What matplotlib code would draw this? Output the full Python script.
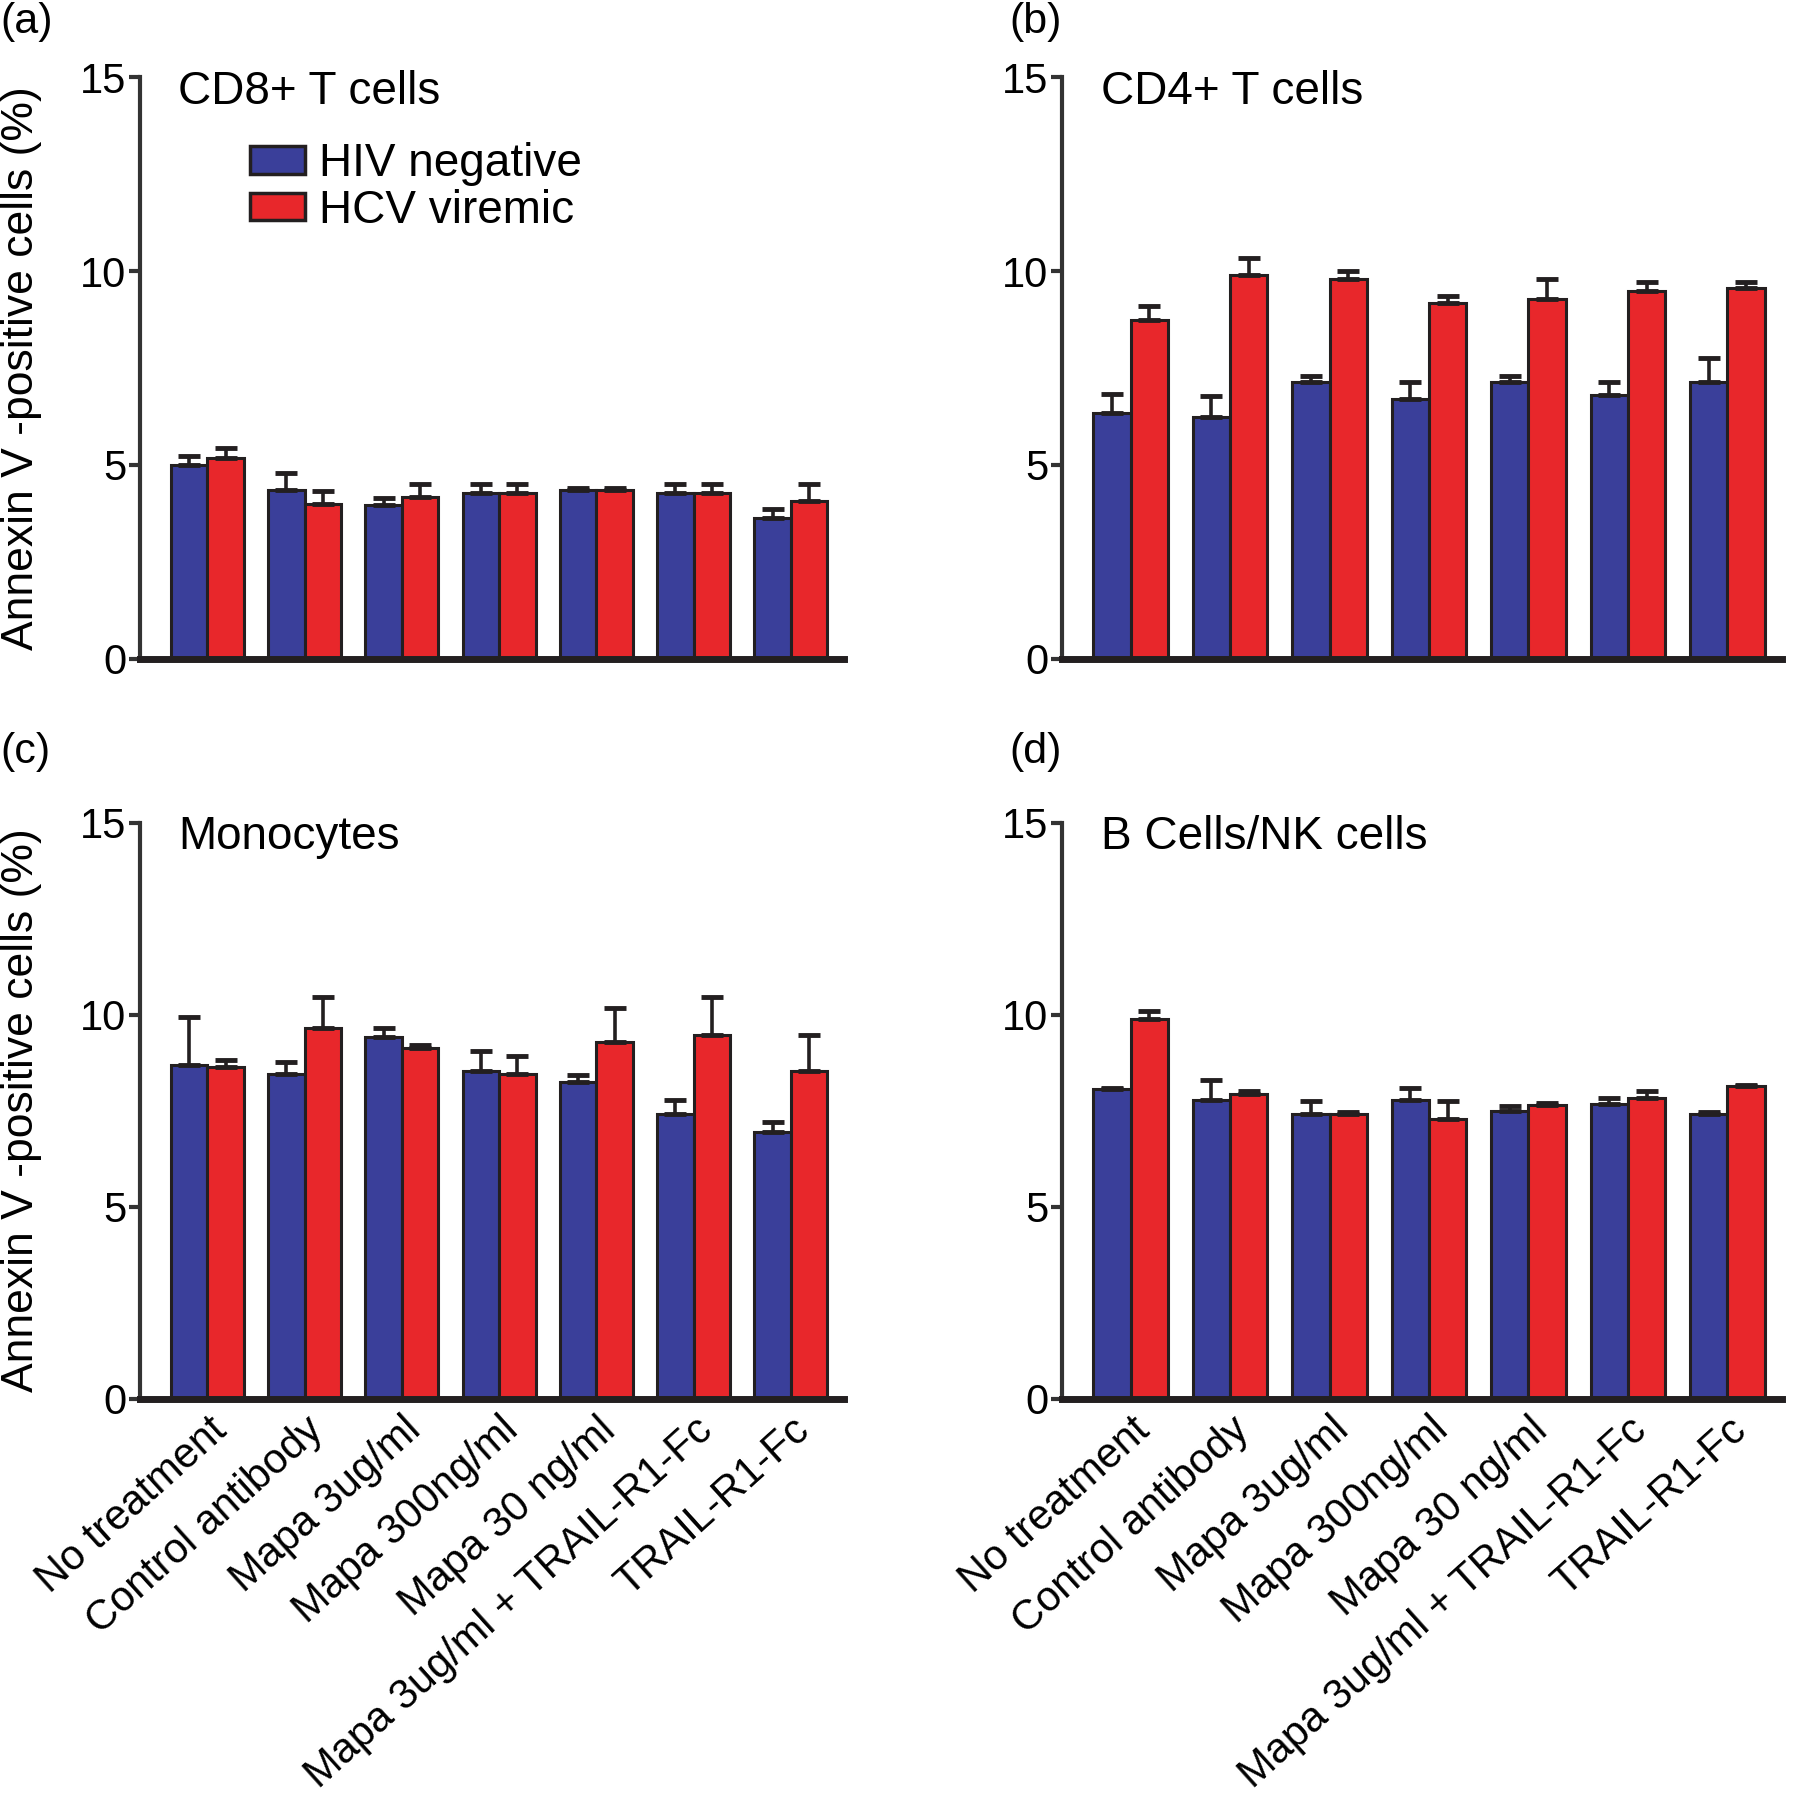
import numpy as np
import matplotlib
matplotlib.use("Agg")
import matplotlib.pyplot as plt
from matplotlib.patches import Patch

plt.rcParams["font.family"] = ["Liberation Sans", "DejaVu Sans"]

# ── Data ─────────────────────────────────────────────────────────────────────
treatments = [
    "No treatment",
    "Control antibody",
    "Mapa 3ug/ml",
    "Mapa 300ng/ml",
    "Mapa 30 ng/ml",
    "Mapa 3ug/ml + TRAIL-R1-Fc",
    "TRAIL-R1-Fc",
]
groups = ["HIV negative", "HCV viremic"]

# (a) CD8+ T cells
cd8_hiv = [5.00, 4.35, 3.97, 4.27, 4.35, 4.27, 3.62]
cd8_hiv_err = [0.23, 0.45, 0.19, 0.23, 0.05, 0.23, 0.25]
cd8_hcv = [5.17, 4.00, 4.17, 4.27, 4.35, 4.27, 4.08]
cd8_hcv_err = [0.26, 0.34, 0.33, 0.23, 0.05, 0.23, 0.42]

# (b) CD4+ T cells
cd4_hiv = [6.34, 6.23, 7.15, 6.69, 7.15, 6.80, 7.15]
cd4_hiv_err = [0.50, 0.55, 0.15, 0.44, 0.15, 0.33, 0.61]
cd4_hcv = [8.75, 9.90, 9.81, 9.19, 9.29, 9.48, 9.56]
cd4_hcv_err = [0.35, 0.44, 0.19, 0.17, 0.52, 0.23, 0.15]

# (c) Monocytes
mono_hiv = [8.69, 8.46, 9.41, 8.54, 8.25, 7.41, 6.95]
mono_hiv_err = [1.24, 0.31, 0.23, 0.50, 0.17, 0.37, 0.25]
mono_hcv = [8.63, 9.66, 9.12, 8.46, 9.29, 9.47, 8.54]
mono_hcv_err = [0.20, 0.79, 0.08, 0.46, 0.87, 0.98, 0.93]

# (d) B cells / NK cells
bnk_hiv = [8.06, 7.77, 7.40, 7.77, 7.48, 7.66, 7.40]
bnk_hiv_err = [0.03, 0.52, 0.35, 0.32, 0.15, 0.17, 0.06]
bnk_hcv = [9.88, 7.94, 7.42, 7.28, 7.65, 7.84, 8.13]
bnk_hcv_err = [0.22, 0.06, 0.04, 0.47, 0.06, 0.16, 0.04]

BLUE = "#3a3f9a"
RED = "#e8272b"
EDGE = "#231f20"

# ── Figure ───────────────────────────────────────────────────────────────────
fig = plt.figure(figsize=(18, 18), dpi=100)

panels = [
    ("(a)", "CD8+ T cells", cd8_hiv, cd8_hiv_err, cd8_hcv, cd8_hcv_err, [0.078, 0.634, 0.391, 0.323]),
    ("(b)", "CD4+ T cells", cd4_hiv, cd4_hiv_err, cd4_hcv, cd4_hcv_err, [0.590, 0.634, 0.400, 0.323]),
    ("(c)", "Monocytes", mono_hiv, mono_hiv_err, mono_hcv, mono_hcv_err, [0.078, 0.223, 0.391, 0.320]),
    ("(d)", "B Cells/NK cells", bnk_hiv, bnk_hiv_err, bnk_hcv, bnk_hcv_err, [0.590, 0.223, 0.400, 0.320]),
]

x = np.arange(len(treatments))
w = 0.375

for i, (tag, title, hiv, hiv_err, hcv, hcv_err, rect) in enumerate(panels):
    ax = fig.add_axes(rect)
    err_kw = dict(ecolor=EDGE, elinewidth=2.6, capsize=8, capthick=3.5)
    ax.bar(x - w / 2, hiv, w, color=BLUE, edgecolor=EDGE, linewidth=2.2,
           yerr=[np.zeros(len(hiv)), hiv_err], error_kw=err_kw, label=groups[0], zorder=2)
    ax.bar(x + w / 2, hcv, w, color=RED, edgecolor=EDGE, linewidth=2.2,
           yerr=[np.zeros(len(hcv)), hcv_err], error_kw=err_kw, label=groups[1], zorder=2)

    ax.set_xlim(-0.69, 6.55)
    ax.set_ylim(0, 15)
    ax.set_yticks([0, 5, 10, 15])
    ax.tick_params(axis="y", labelsize=30, length=8, width=3, color="#333333", pad=2)

    for s in ["top", "right"]:
        ax.spines[s].set_visible(False)
    ax.spines["left"].set_linewidth(3)
    ax.spines["left"].set_color("#333333")
    ax.spines["bottom"].set_linewidth(5)
    ax.spines["bottom"].set_color(EDGE)
    ax.spines["bottom"].set_zorder(3)

    if i >= 2:
        ax.set_xticks(x)
        ax.set_xticklabels(treatments, rotation=42, ha="right", rotation_mode="anchor", fontsize=30)
        ax.tick_params(axis="x", length=0, pad=8)
    else:
        ax.set_xticks([])

    if i % 2 == 0:
        ax.set_ylabel("Annexin V -positive cells (%)", fontsize=32)
        ax.yaxis.set_label_coords(-0.14, 0.5)

    ax.text(0.054, 0.975, title, transform=ax.transAxes, fontsize=33, va="center", ha="left")

    if i == 0:
        handles = [Patch(facecolor=BLUE, edgecolor=EDGE, linewidth=2.5),
                   Patch(facecolor=RED, edgecolor=EDGE, linewidth=2.5)]
        ax.legend(handles, groups, loc="upper left", bbox_to_anchor=(0.13, 0.92),
                  frameon=False, fontsize=33, handlelength=1.2, handleheight=0.55,
                  handletextpad=0.3, labelspacing=0.05, borderaxespad=0)

    fx = 0.0 if i % 2 == 0 else 0.561
    fy = 0.988 if i < 2 else 0.582
    fig.text(fx, fy, tag, fontsize=31, va="center", ha="left")

fig.savefig("out.png", dpi=100)
